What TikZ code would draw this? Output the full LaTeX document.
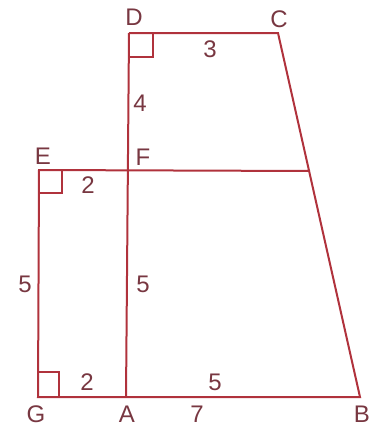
\documentclass[tikz,border=0pt]{standalone}
\usepackage{fontspec}
\setmainfont{Liberation Sans}
\usetikzlibrary{calc}
\definecolor{ln}{RGB}{176,50,60}
\definecolor{tx}{RGB}{120,55,65}
\begin{document}
\begin{tikzpicture}[x=1pt,y=-1pt,
  seg/.style={draw=ln,line width=2pt},
  lbl/.style={text=tx,font=\fontsize{24}{28}\selectfont,inner sep=0pt}]
\useasboundingbox (0,0) rectangle (373,429);
\coordinate (D) at (129,33);
\coordinate (C) at (278,33);
\coordinate (E) at (39,170);
\coordinate (F) at (128,170);
\coordinate (H) at (310,171);
\coordinate (G) at (38,397);
\coordinate (A) at (126,397);
\coordinate (B) at (360,397);
% lines
\draw[seg] (D) -- (C) -- (B) -- (G) -- (E) -- (H);
\draw[seg] (D) -- (A);
% right-angle marks
\draw[seg] ($(D)+(0,24)$) -- ++(24,0) -- ++(0,-24);
\draw[seg] ($(E)+(0,23)$) -- ++(23,0) -- ++(0,-23);
\draw[seg] ($(G)+(0,-25)$) -- ++(21,0) -- ++(0,25);
% labels
\node[lbl] (lD) at (134,17) {D};
\node[lbl] (lC) at (279,19) {C};
\node[lbl] (l3) at (210,49) {3};
\node[lbl] (l4) at (140,103) {4};
\node[lbl] (lE) at (43,156) {E};
\node[lbl] (lF) at (143,157) {F};
\node[lbl] (l2a) at (88,185) {2};
\node[lbl] (l5a) at (25,284) {5};
\node[lbl] (l5b) at (143,284) {5};
\node[lbl] (l2b) at (87,382) {2};
\node[lbl] (l5c) at (215,382) {5};
\node[lbl] (lG) at (36,414) {G};
\node[lbl] (lA) at (127,414) {A};
\node[lbl] (l7) at (197,414) {7};
\node[lbl] (lB) at (362,414) {B};
\end{tikzpicture}
\end{document}
